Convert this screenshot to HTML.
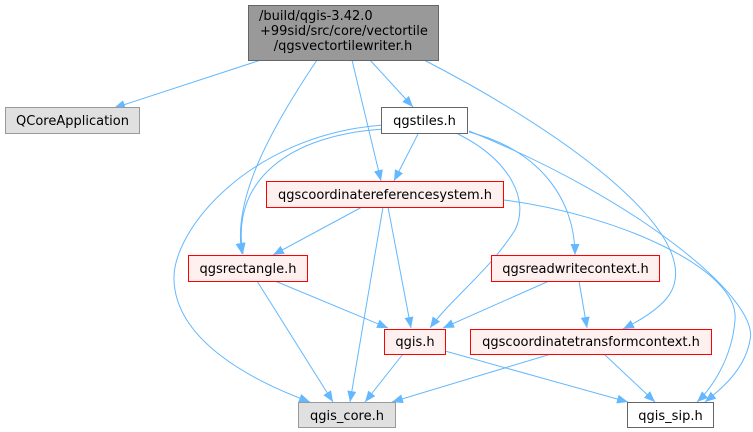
<!DOCTYPE html>
<html><head><meta charset="utf-8"><style>
html,body{margin:0;padding:0;background:#fff;}
svg{display:block;}
text{font-family:"DejaVu Sans","Liberation Sans",sans-serif;font-size:13px;fill:#000;}
</style></head><body>
<svg width="753" height="432" viewBox="0 0 753 432" xmlns="http://www.w3.org/2000/svg">
<defs>
<marker id="a" markerWidth="12" markerHeight="10" refX="11" refY="5" orient="auto" markerUnits="userSpaceOnUse">
<path d="M0,0.5 L11,5 L0,9.5 z" fill="#63b8ff"/>
</marker>
</defs>
<g fill="none" stroke="#63b8ff" stroke-width="1" marker-end="url(#a)">
<path d="M261,60 L114,108"/>
<path d="M317,60 C270,130 232,200 242,254"/>
<path d="M352,60 L381,181"/>
<path d="M370,60 L413,107"/>
<path d="M424,60 C560,130 700,230 672,290 C665,305 645,318 623,329"/>
<path d="M418,134 L394,181"/>
<path d="M383,129 C290,135 230,180 243,254"/>
<path d="M383,125 C250,135 172,230 174,280 C176,340 250,380 310,402"/>
<path d="M458,134 C510,160 530,200 515,230 C490,270 450,300 430,328"/>
<path d="M469,132 C540,150 575,200 575,255"/>
<path d="M469,131 C640,200 760,300 750,340 C745,370 720,390 705,402"/>
<path d="M504,200 C620,215 740,270 735,320 C732,360 710,390 697,402"/>
<path d="M362,207 L273,255"/>
<path d="M383,207 L350,402"/>
<path d="M388,207 L411,328"/>
<path d="M257,281 L333,402"/>
<path d="M275,281 L388,328"/>
<path d="M549,281 L443,328"/>
<path d="M579,281 L587,328"/>
<path d="M403,354 L365,402"/>
<path d="M445,351 L628,402"/>
<path d="M551,354 L392,402"/>
<path d="M604,354 L655,402"/>
</g>
<g stroke-width="1">
<rect x="248.5" y="5.5" width="190" height="55" fill="#999999" stroke="#666666"/>
<rect x="5.5" y="107.5" width="134" height="26" fill="#e0e0e0" stroke="#999999"/>
<rect x="381.5" y="107.5" width="86" height="26" fill="#ffffff" stroke="#666666"/>
<rect x="266.5" y="181.5" width="237" height="26" fill="#fff0f0" stroke="#ff0000"/>
<rect x="188.5" y="255.5" width="119" height="26" fill="#fff0f0" stroke="#ff0000"/>
<rect x="491.5" y="255.5" width="168" height="26" fill="#fff0f0" stroke="#ff0000"/>
<rect x="384.5" y="329.5" width="61" height="25" fill="#fff0f0" stroke="#ff0000"/>
<rect x="470.5" y="329.5" width="241" height="25" fill="#fff0f0" stroke="#ff0000"/>
<rect x="298.5" y="402.5" width="97" height="25" fill="#e0e0e0" stroke="#999999"/>
<rect x="627.5" y="402.5" width="86" height="25" fill="#ffffff" stroke="#666666"/>
</g>
<text x="259" y="20">/build/qgis-3.42.0</text>
<text x="260" y="35">+99sid/src/core/vectortile</text>
<text x="343" y="50" text-anchor="middle">/qgsvectortilewriter.h</text>
<text x="72.5" y="125" text-anchor="middle">QCoreApplication</text>
<text x="424.5" y="125" text-anchor="middle">qgstiles.h</text>
<text x="385" y="199" text-anchor="middle">qgscoordinatereferencesystem.h</text>
<text x="248" y="273" text-anchor="middle">qgsrectangle.h</text>
<text x="575.5" y="273" text-anchor="middle">qgsreadwritecontext.h</text>
<text x="415" y="346" text-anchor="middle">qgis.h</text>
<text x="591" y="346" text-anchor="middle">qgscoordinatetransformcontext.h</text>
<text x="347" y="420" text-anchor="middle">qgis_core.h</text>
<text x="670.5" y="420" text-anchor="middle">qgis_sip.h</text>
</svg>
</body></html>
